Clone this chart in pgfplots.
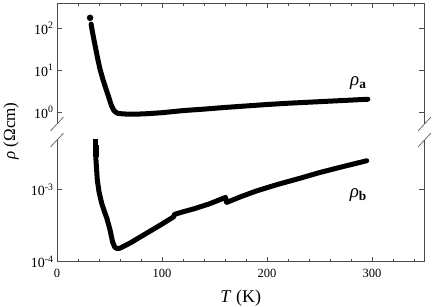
\documentclass[border=0pt]{standalone}
\usepackage{fontspec}
\setmainfont{Liberation Serif}
\usepackage{pgfplots}
\pgfplotsset{compat=1.18}
\definecolor{framegray}{gray}{0.3}
\pgfkeys{/pgf/number format/assume math mode=true}
\pgfplotsset{
  every axis/.append style={
  scale only axis, width=367.5bp, xmin=0, xmax=350,
  axis line style={-, draw=framegray, line width=0.8bp},
  tick style={draw=framegray, line width=0.8bp},
  major tick length=5bp, minor tick length=3bp,
  xticklabel style={font=\fontsize{12.5bp}{15bp}\selectfont},
  yticklabel style={font=\fontsize{14bp}{16bp}\selectfont},
  xtick={0,100,200,300}, minor xtick={20,40,...,340},
  clip=false}
}
\tikzset{mydata/.style={black, line width=5bp, line join=round, line cap=round}}
\begin{document}
\begin{tikzpicture}
\useasboundingbox (0,0) rectangle (436bp,307bp);
% ---------- bottom axis (rho_b) ----------
\begin{axis}[ymode=log, at={(57bp,45.5bp)}, anchor=south west, height=121.5bp,
  ymin=1e-4, ymax=4.87e-3, axis x line*=bottom, axis y line*=box,
  xticklabel style={yshift=-4bp},
  ytick={1e-4,1e-3}, yticklabels={10\textsuperscript{-4},10\textsuperscript{-3}}, yminorticks=false,
  xlabel={\textit{T} (K)}, xlabel style={font=\fontsize{18bp}{20bp}\selectfont, yshift=-6bp}]
\addplot[mydata, mark=none] coordinates {
(37.0,2.75e-3) (37.6,2.0e-3) (38.4,1.35e-3) (40,9.33e-4) (42.5,6.46e-4)
(45,5.01e-4) (47.5,3.98e-4) (50.5,2.75e-4) (53,1.86e-4) (55,1.585e-4)
(57,1.514e-4) (60,1.53e-4) (70,1.82e-4) (85,2.455e-4) (100,3.31e-4)
(111,4.17e-4) (112,4.52e-4) (120,4.90e-4) (130,5.37e-4) (145,6.31e-4)
(160.5,7.76e-4) (161.5,6.61e-4) (175,7.94e-4) (190,9.55e-4) (210,1.175e-3)
(230,1.413e-3) (250,1.718e-3) (270,2.04e-3) (295,2.51e-3)
};
\addplot[only marks, mark=square*, mark size=2.3bp, black] coordinates {
(36.2,4.57e-3) (36.6,3.80e-3) (36.9,3.16e-3)
};
\node[font=\fontsize{19bp}{21bp}\selectfont] at (axis cs:287,8.5e-4) {\textit{ρ}\textsubscript{\textbf{b}}};
\draw[framegray, line width=0.6bp] (rel axis cs:0,1) ++(-6.5bp,-7bp) -- ++(13bp,14bp);
\draw[framegray, line width=0.6bp] (rel axis cs:1,1) ++(-6.5bp,-7bp) -- ++(13bp,14bp);
\end{axis}
% ---------- top axis (rho_a) ----------
\begin{axis}[ymode=log, at={(57bp,183bp)}, anchor=south west, height=120.5bp,
  ymin=0.526, ymax=389, axis x line*=top, axis y line*=box,
  xticklabels={}, yminorticks=false,
  ytick={1,10,100}, yticklabels={10\textsuperscript{0},10\textsuperscript{1},10\textsuperscript{2}}]
\addplot[mydata, mark=none] coordinates {
(32.5,125.9) (33.5,89.1) (35,56.2) (37,31.6) (39,17.8) (41,10.5)
(44,5.75) (47,3.39) (50,2.0) (52,1.41) (54,1.12) (56,1.0) (58,0.94)
(62,0.92) (68,0.90) (75,0.90) (85,0.923) (100,0.977) (120,1.096)
(140,1.189) (160,1.303) (180,1.413) (200,1.531) (220,1.641)
(240,1.738) (260,1.841) (280,1.950) (296,2.042)
};
\addplot[only marks, mark=*, mark size=3bp, black] coordinates {(31.5,177.8)};
\node[font=\fontsize{19bp}{21bp}\selectfont] at (axis cs:287,5.0) {\textit{ρ}\textsubscript{\textbf{a}}};
\draw[framegray, line width=0.6bp] (rel axis cs:0,0) ++(-6.5bp,-7bp) -- ++(13bp,14bp);
\draw[framegray, line width=0.6bp] (rel axis cs:1,0) ++(-6.5bp,-7bp) -- ++(13bp,14bp);
\end{axis}
\node[rotate=90, font=\fontsize{17bp}{19bp}\selectfont] at (11bp,176bp) {\textit{ρ} (Ωcm)};
\end{tikzpicture}
\end{document}
